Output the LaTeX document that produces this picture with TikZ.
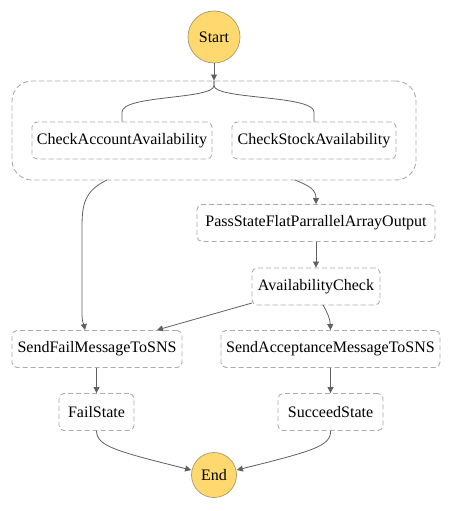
\documentclass[tikz,border=0pt]{standalone}
\usepackage{fontspec}
\setmainfont{Liberation Serif}
\usepackage{tikz}
\usetikzlibrary{arrows.meta,calc,positioning}
\definecolor{giallo}{HTML}{FFD970}
\definecolor{bordogiallo}{HTML}{A8996A}
\definecolor{tratteggio}{HTML}{ABABAB}
\definecolor{freccia}{HTML}{606060}

\begin{document}
\begin{tikzpicture}[x=1pt,y=-1pt,
  every node/.style={font=\fontsize{16}{19}\selectfont},
  stato/.style={draw=tratteggio, line width=0.9pt, dash pattern=on 5pt off 3pt,
    rounded corners=5pt, minimum height=37pt, inner sep=0pt},
  cerchio/.style={circle, draw=bordogiallo, fill=giallo, line width=0.7pt, inner sep=0pt},
  conn/.style={draw=freccia, line width=0.8pt},
  freccia/.style={conn, -{Triangle[length=6pt,width=6pt]}}]
\useasboundingbox (0,0) rectangle (453,511);
% inizio e fine
\node[cerchio, minimum size=52pt] (start) at (214,37) {Start};
\node[cerchio, minimum size=45pt] (finish) at (214,475) {End};
% blocco parallelo
\node[stato, rounded corners=20pt, minimum width=404pt, minimum height=99pt] (par) at (214,130.5) {};
\node[stato, minimum width=180pt] (checkacc) at (122,140.5) {CheckAccountAvailability};
\node[stato, minimum width=164pt] (checkstock) at (314,140.5) {CheckStockAvailability};
% stati
\node[stato, minimum width=238pt] (passflat) at (316,223) {PassStateFlatParrallelArrayOutput};
\node[stato, minimum width=128pt] (avcheck) at (316,286.5) {AvailabilityCheck};
\node[stato, minimum width=170pt] (sendfail) at (97,349) {SendFailMessageToSNS};
\node[stato, minimum width=219pt] (sendacc) at (330.5,349) {SendAcceptanceMessageToSNS};
\node[stato, minimum width=75pt] (failst) at (96.5,412) {FailState};
\node[stato, minimum width=105pt] (succst) at (330.5,412) {SucceedState};
% punti di uscita del blocco
\coordinate (parsx) at (107,180);
\coordinate (pardx) at (295,180);
\coordinate (avsx) at (252,303);
\coordinate (avdx) at (323,305);
\coordinate (failin) at (157,330);
% connessioni
\draw[freccia] (start) -- (par.north);
\draw[conn] (par.north) -- ++(0,5) .. controls +(0,14) and (122,95) .. (checkacc.north |- 0,112) -- (checkacc.north);
\draw[conn] (par.north) -- ++(0,5) .. controls +(0,14) and (314,95) .. (checkstock.north |- 0,112) -- (checkstock.north);
\draw[freccia] (parsx) .. controls (84,191) and (82,205) .. (82,228) -- (82,315) .. controls (82,322) and (84,325) .. (sendfail.north -| 85,0);
\draw[freccia] (pardx) .. controls (310,186) and (316,190) .. (passflat.north);
\draw[freccia] (passflat) -- (avcheck);
\draw[freccia] (avsx) -- (failin);
\draw[freccia] (avdx) .. controls (327,312) and (330,318) .. (sendacc.north);
\draw[freccia] (sendfail.south -| failst) -- (failst);
\draw[freccia] (sendacc) -- (succst);
\draw[freccia] (failst.south) .. controls (97,446) and (115,451) .. (finish.west |- 0,470);
\draw[freccia] (succst.south) .. controls (331,446) and (313,451) .. (finish.east |- 0,470);
\end{tikzpicture}
\end{document}
